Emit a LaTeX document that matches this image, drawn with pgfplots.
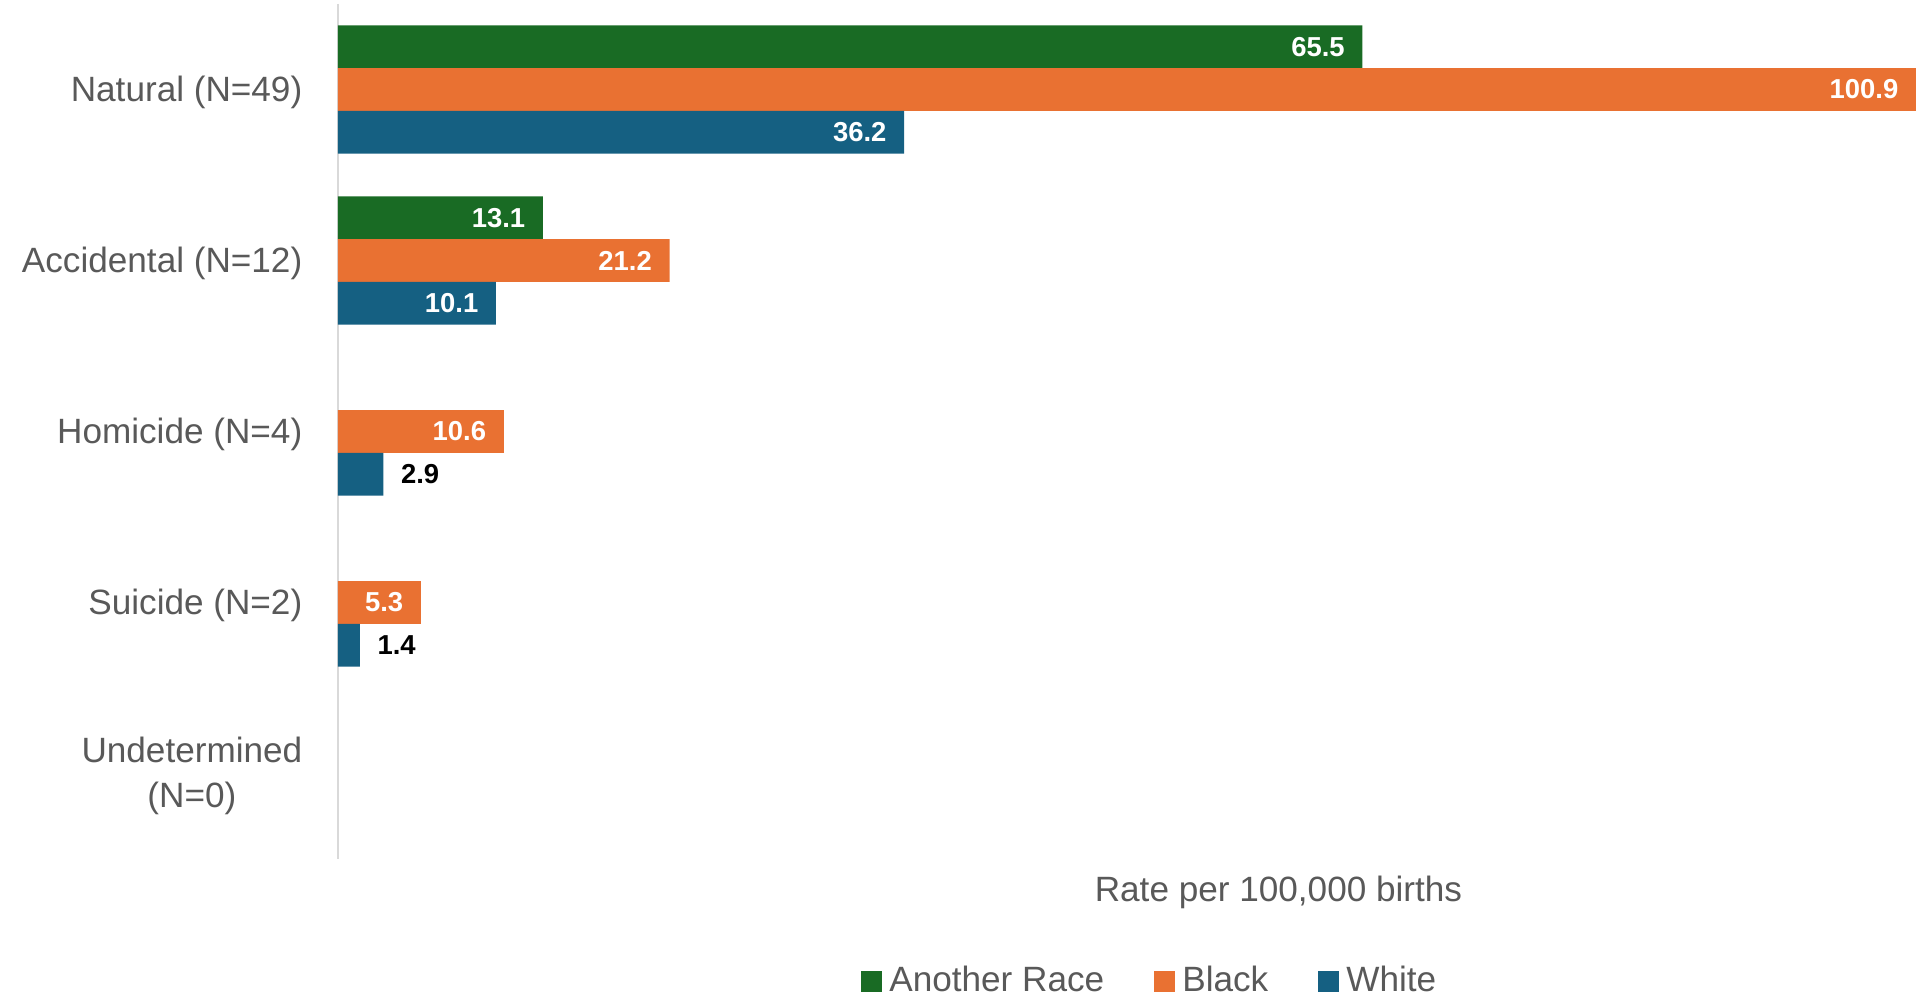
\documentclass[border=0pt]{standalone}
\usepackage{fontspec}
\setmainfont{Liberation Sans}
\usepackage{pgfplots}
\pgfplotsset{compat=1.18}
\definecolor{cgreen}{HTML}{196B24}
\definecolor{corange}{HTML}{E97132}
\definecolor{cblue}{HTML}{156082}
\definecolor{ctext}{HTML}{595959}
\definecolor{caxis}{HTML}{D9D9D9}
\begin{document}
\begin{tikzpicture}
\useasboundingbox (0,0) rectangle (191.6mm,99.4mm);
\begin{axis}[
  at={(33.8mm,13.5mm)}, anchor=south west,
  scale only axis, width=157.8mm, height=85.5mm,
  xbar, bar width=0.25,
  xmin=0, xmax=100.9,
  ymin=-0.5, ymax=4.5, y dir=reverse,
  clip=false,
  axis y line*=left, axis x line*=bottom,
  y axis line style={draw=caxis, line width=0.6pt, -},
  x axis line style={draw=none},
  xtick=\empty,
  ytick={0,1,2,3,4},
  yticklabels={Natural (N=49), Accidental (N=12), Homicide (N=4), Suicide (N=2), {Undetermined\\(N=0)}},
  yticklabel style={font=\fontsize{10}{13}\selectfont, text=ctext, align=center, inner sep=0pt, xshift=-3.5mm, yshift=-0.25mm},
  major tick length=0pt,
  ytick style={draw=none},
  /pgf/number format/assume math mode=true,
  nodes near coords={\pgfmathprintnumber[fixed,fixed zerofill,precision=1,assume math mode=true]{\pgfplotspointmeta}},
  nodes near coords style={font=\fontsize{7.8}{9}\selectfont\bfseries, text=white, anchor=east, inner sep=0pt, xshift=-1.7mm},
  legend style={at={(0.516,-0.143)}, anchor=center, legend columns=3, draw=none,
    font=\fontsize{10}{12}\selectfont, text=ctext,
    /tikz/every even column/.append style={column sep=4.3mm}},
  legend cell align=left,
]
\addplot[fill=cgreen, draw=none, bar shift=-0.25,
  legend image code/.code={\fill[cgreen] (0mm,-1.05mm) rectangle (2.1mm,1.05mm);}]
  coordinates {(65.5,0) (13.1,1)};
\addplot[fill=corange, draw=none, bar shift=0,
  legend image code/.code={\fill[corange] (0mm,-1.05mm) rectangle (2.1mm,1.05mm);}]
  coordinates {(100.9,0) (21.2,1) (10.6,2) (5.3,3)};
\addplot[fill=cblue, draw=none, bar shift=0.25,
  legend image code/.code={\fill[cblue] (0mm,-1.05mm) rectangle (2.1mm,1.05mm);}]
  coordinates {(36.2,0) (10.1,1)};
\addplot[fill=cblue, draw=none, bar shift=0.25, forget plot,
  nodes near coords style={text=black, anchor=west, xshift=3.4mm}]
  coordinates {(2.9,2) (1.4,3)};
\legend{Another Race, Black, White}
\node[font=\fontsize{10}{12}\selectfont, text=ctext] at (axis description cs:0.596,-0.039) {Rate per 100,000 births};
\end{axis}
\end{tikzpicture}
\end{document}
